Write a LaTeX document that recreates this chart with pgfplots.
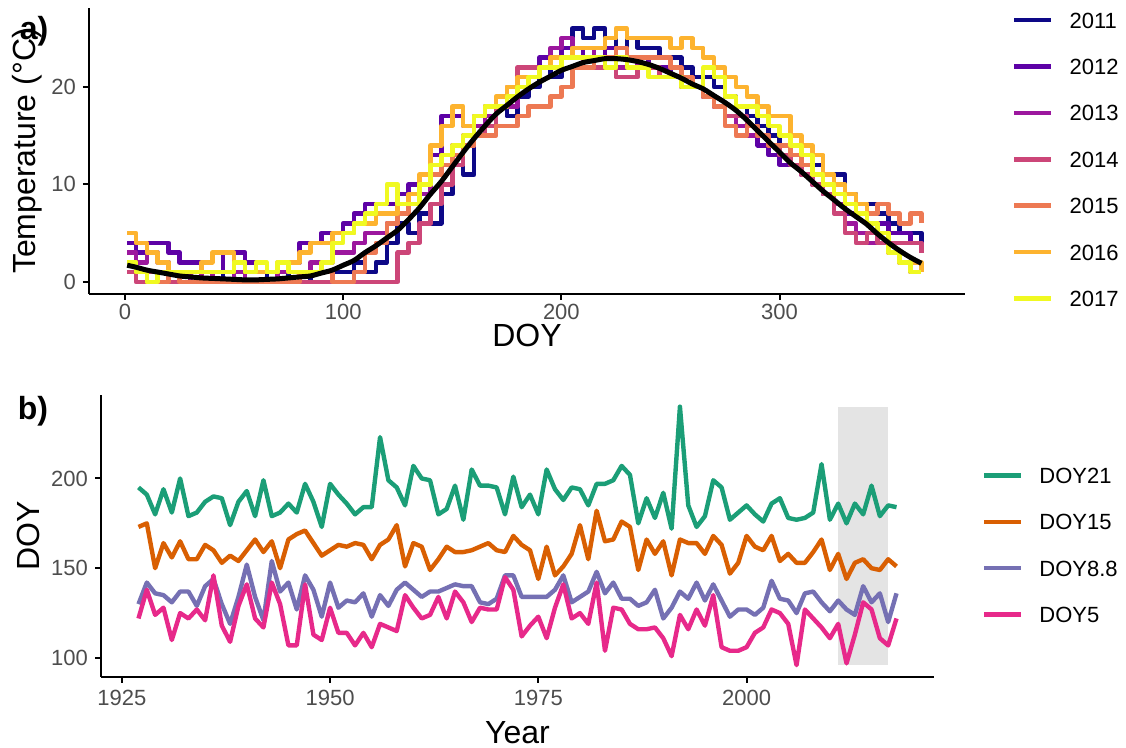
\documentclass[border=0pt]{standalone}
\usepackage{fontspec}
\setmainfont{Liberation Sans}
\usepackage{pgfplots}
\pgfplotsset{compat=1.18}

\definecolor{gray30}{HTML}{4D4D4D}
\definecolor{y2011}{HTML}{0D0887}
\definecolor{y2012}{HTML}{5D01A6}
\definecolor{y2013}{HTML}{9C179E}
\definecolor{y2014}{HTML}{CC4678}
\definecolor{y2015}{HTML}{ED7953}
\definecolor{y2016}{HTML}{FDB32F}
\definecolor{y2017}{HTML}{F0F921}
\definecolor{doyA}{HTML}{1B9E77}
\definecolor{doyB}{HTML}{D95F02}
\definecolor{doyC}{HTML}{7570B3}
\definecolor{doyD}{HTML}{E7298A}
\definecolor{shade}{HTML}{E4E4E4}

\newcommand\tickfont{\fontsize{11}{13}\selectfont}
\newcommand\titlefont{\fontsize{16}{19}\selectfont}

\pgfplotsset{
  panel/.style={
    scale only axis,
    axis lines*=left,
    axis line style={line width=1pt, black},
    tick align=outside,
    major tick length=3pt,
    major tick style={line width=1pt, black},
    tick label style={font=\tickfont, text=gray30},
    /pgf/number format/assume math mode=true,
    label style={font=\titlefont},
    legend cell align=left,
    legend style={draw=none, fill=none, inner sep=0pt, outer sep=0pt,
      column sep=8pt, row sep=15.2pt, font=\tickfont,
      nodes={inner sep=0pt, text height=8pt, text depth=0pt}},
    legend image code/.code={\draw[##1] (0pt,0pt) -- (18.5pt,0pt);},
  },
  yr/.style={line width=2.3pt, line join=round, const plot},
  doy/.style={line width=2.2pt, line join=round},
}

\begin{document}
\begin{tikzpicture}
\path[use as bounding box] (0pt,0pt) rectangle (563pt,374pt);

% ---------------- a) daily temperature by year ----------------
\begin{axis}[panel,
  at={(44.5pt,227pt)}, anchor=south west,
  width=438pt, height=143pt,
  xmin=-16.5, xmax=385, ymin=-1.25, ymax=28.1,
  xtick={0,100,200,300}, ytick={0,10,20},
  xticklabel style={yshift=1.5pt},
  xlabel={DOY}, ylabel={Temperature (°C)},
  xlabel style={at={(axis description cs:0.5,-0.145)}, anchor=center},
  ylabel style={at={(axis description cs:-0.07,0.5)}, anchor=center},
  legend style={at={(axis description cs:1.0537,0.9855)}, anchor=north west},
]
\addplot[yr, y2011] coordinates {(1,2)(5,1)(10,1)(15,0)(20,1)(25,0)(30,1)(35,0)(40,0)(45,1)(50,0)(55,0)(60,0)(65,1)(70,0)(75,1)(80,0)(85,1)(90,1)(95,1)(100,1)(105,2)(110,1)(115,2)(120,4)(125,6)(130,5)(135,7)(140,6)(145,9)(150,12)(155,11)(160,15)(165,17)(170,18)(175,17)(180,19)(185,20)(190,22)(195,21)(200,24)(205,26)(210,25)(215,26)(220,25)(225,24)(230,25)(235,24)(240,24)(245,23)(250,23)(255,22)(260,21)(265,21)(270,20)(275,19)(280,18)(285,17)(290,16)(295,15)(300,14)(305,13)(310,12)(315,12)(320,11)(325,11)(330,9)(335,8)(340,8)(345,7)(350,6)(355,5)(360,5)(365,3)};
\addplot[yr, y2012] coordinates {(1,4)(5,3)(10,4)(15,4)(20,3)(25,2)(30,2)(35,1)(40,1)(45,3)(50,3)(55,2)(60,1)(65,1)(70,1)(75,2)(80,4)(85,4)(90,5)(95,5)(100,6)(105,7)(110,8)(115,8)(120,8)(125,9)(130,10)(135,10)(140,13)(145,17)(150,17)(155,16)(160,17)(165,18)(170,18)(175,19)(180,20)(185,21)(190,23)(195,23)(200,24)(205,24)(210,23)(215,23)(220,24)(225,23)(230,23)(235,23)(240,22)(245,22)(250,21)(255,21)(260,20)(265,19)(270,18)(275,17)(280,16)(285,15)(290,14)(295,13)(300,12)(305,12)(310,11)(315,10)(320,9)(325,8)(330,7)(335,7)(340,6)(345,6)(350,5)(355,5)(360,4)(365,3)};
\addplot[yr, y2013] coordinates {(1,3)(5,2)(10,3)(15,2)(20,1)(25,1)(30,0)(35,1)(40,0)(45,0)(50,1)(55,0)(60,0)(65,0)(70,1)(75,1)(80,1)(85,2)(90,2)(95,3)(100,3)(105,4)(110,5)(115,5)(120,6)(125,7)(130,8)(135,9)(140,11)(145,12)(150,14)(155,15)(160,16)(165,17)(170,18)(175,18)(180,20)(185,21)(190,22)(195,24)(200,25)(205,24)(210,24)(215,23)(220,23)(225,22)(230,23)(235,22)(240,22)(245,21)(250,21)(255,20)(260,20)(265,19)(270,18)(275,17)(280,16)(285,15)(290,15)(295,14)(300,13)(305,12)(310,11)(315,10)(320,9)(325,8)(330,6)(335,5)(340,4)(345,4)(350,3)(355,2)(360,1)(365,1)};
\addplot[yr, y2014] coordinates {(1,1)(5,0)(10,1)(15,0)(60,0)(122,0)(125,3)(130,4)(135,6)(140,8)(145,10)(150,12)(155,14)(160,15)(165,16)(170,18)(175,20)(180,22)(185,22)(190,22)(195,23)(200,23)(205,23)(210,22)(215,22)(220,22)(225,21)(230,21)(235,22)(240,22)(245,21)(250,21)(255,20)(260,20)(265,19)(270,18)(275,17)(280,17)(285,16)(290,15)(295,14)(300,13)(305,12)(310,11)(315,10)(320,9)(325,7)(330,5)(335,4)(340,5)(345,4)(350,4)(355,4)(360,4)(365,3)};
\addplot[yr, y2015] coordinates {(1,2)(5,1)(10,0)(15,0)(20,1)(25,0)(30,0)(75,0)(80,1)(85,1)(90,1)(95,0)(100,0)(105,1)(110,3)(115,4)(120,6)(125,7)(130,8)(135,10)(140,11)(145,12)(150,13)(155,14)(160,15)(165,15)(170,16)(175,16)(180,17)(185,18)(190,18)(195,19)(200,20)(205,22)(210,22)(215,23)(220,23)(225,24)(230,23)(235,23)(240,23)(245,23)(250,22)(255,21)(260,20)(265,19)(270,18)(275,16)(280,15)(285,16)(290,15)(295,14)(300,14)(305,13)(310,12)(315,11)(320,10)(325,9)(330,8)(335,8)(340,7)(345,8)(350,7)(355,6)(360,7)(365,6)};
\addplot[yr, y2016] coordinates {(1,5)(5,4)(10,3)(15,2)(20,1)(25,1)(30,1)(35,2)(40,3)(45,3)(50,2)(55,1)(60,1)(65,1)(70,2)(75,2)(80,3)(85,4)(90,4)(95,5)(100,5)(105,6)(110,6)(115,7)(120,7)(125,8)(130,9)(135,11)(140,14)(145,16)(150,18)(155,16)(160,17)(165,18)(170,19)(175,20)(180,21)(185,21)(190,22)(195,23)(200,23)(205,24)(210,24)(215,24)(220,25)(225,26)(230,25)(235,25)(240,25)(245,25)(250,24)(255,25)(260,24)(265,23)(270,22)(275,21)(280,20)(285,19)(290,18)(295,17)(300,17)(305,15)(310,14)(315,13)(320,11)(325,10)(330,9)(335,8)(340,6)(345,5)(350,3)(355,2)(360,2)(365,1)};
\addplot[yr, y2017] coordinates {(1,2)(5,1)(10,0)(15,1)(20,1)(25,1)(30,1)(35,1)(40,1)(45,1)(50,2)(55,1)(60,2)(65,1)(70,2)(75,1)(80,1)(85,1)(90,2)(95,4)(100,5)(105,6)(110,7)(115,8)(120,10)(125,8)(130,8)(135,10)(140,12)(145,13)(150,14)(155,15)(160,17)(165,18)(170,18)(175,19)(180,20)(185,21)(190,22)(195,22)(200,23)(205,23)(210,23)(215,23)(220,22)(225,23)(230,22)(235,22)(240,21)(245,21)(250,21)(255,20)(260,20)(265,22)(270,21)(275,19)(280,18)(285,18)(290,17)(295,16)(300,15)(305,14)(310,13)(315,11)(320,10)(325,9)(330,8)(335,7)(340,6)(345,5)(350,3)(355,2)(360,1)(365,1)};
% mean seasonal curve
\addplot[black, line width=2.5pt, smooth, forget plot] coordinates {(1,1.7)(5,1.5)(10,1.2)(15,1.0)(20,0.8)(25,0.6)(30,0.5)(35,0.4)(40,0.35)(45,0.3)(50,0.25)(55,0.2)(60,0.2)(65,0.25)(70,0.3)(75,0.4)(80,0.5)(85,0.6)(90,0.9)(95,1.2)(100,1.7)(105,2.2)(110,3.0)(115,3.7)(120,4.5)(125,5.3)(130,6.4)(135,7.6)(140,9.0)(145,10.3)(150,11.8)(155,13.3)(160,14.7)(165,16.0)(170,17.2)(175,18.1)(180,19.0)(185,19.8)(190,20.5)(195,21.1)(200,21.7)(205,22.1)(210,22.5)(215,22.7)(220,22.9)(225,22.9)(230,22.8)(235,22.6)(240,22.3)(245,21.9)(250,21.4)(255,20.9)(260,20.3)(265,19.8)(270,19.1)(275,18.4)(280,17.6)(285,16.6)(290,15.5)(295,14.4)(300,13.3)(305,12.2)(310,11.3)(315,10.3)(320,9.3)(325,8.4)(330,7.5)(335,6.7)(340,5.9)(345,4.9)(350,4.0)(355,3.2)(360,2.5)(365,1.9)};
\legend{2011,2012,2013,2014,2015,2016,2017}
\end{axis}

% ---------------- b) threshold DOY by year ----------------
\pgfplotstableread{
year d21 d15 d88 d5
1927 195 173 130 122
1928 191 175 142 138
1929 180 150 136 124
1930 194 164 135 128
1931 181 156 131 110
1932 200 165 137 125
1933 179 155 137 122
1934 181 155 129 127
1935 187 163 140 121
1936 190 160 144 146
1937 189 153 130 118
1938 174 157 119 109
1939 187 154 134 129
1940 193 160 152 141
1941 179 166 134 122
1942 199 159 121 117
1943 179 165 154 142
1944 181 150 137 130
1945 186 166 142 107
1946 181 169 127 107
1947 197 171 146 141
1948 187 164 138 113
1949 173 157 123 110
1950 197 160 142 128
1951 191 163 128 114
1952 186 162 132 114
1953 180 164 131 107
1954 184 163 136 114
1955 184 155 123 106
1956 223 163 135 119
1957 199 166 129 117
1958 195 174 138 115
1959 185 151 142 135
1960 207 164 138 128
1961 200 162 134 122
1962 199 149 137 124
1963 180 155 137 134
1964 183 162 139 122
1965 196 159 141 137
1966 177 159 140 131
1967 205 160 140 120
1968 196 162 131 128
1969 196 164 130 127
1970 195 160 133 127
1971 180 159 146 145
1972 201 168 146 138
1973 184 163 134 112
1974 191 160 134 118
1975 180 144 134 123
1976 205 162 134 111
1977 194 146 138 128
1978 188 151 146 141
1979 195 158 131 122
1980 194 174 134 125
1981 185 155 137 119
1982 197 182 148 142
1983 197 165 136 104
1984 199 166 142 128
1985 207 176 133 127
1986 202 173 133 119
1987 175 149 129 116
1988 189 166 131 116
1989 178 158 138 117
1990 192 165 122 111
1991 172 146 128 101
1992 240 166 137 124
1993 185 164 133 116
1994 173 164 142 127
1995 179 158 132 118
1996 199 168 141 135
1997 195 163 132 106
1998 177 147 123 104
1999 181 153 127 104
2000 185 168 127 106
2001 180 162 124 114
2002 176 160 128 117
2003 186 168 143 127
2004 189 154 133 125
2005 178 158 132 119
2006 177 153 125 96
2007 178 153 136 127
2008 181 159 137 122
2009 208 166 131 117
2010 177 149 126 111
2011 186 158 132 119
2012 175 144 127 97
2013 186 153 124 113
2014 180 155 140 131
2015 196 150 131 127
2016 179 149 136 111
2017 185 155 120 107
2018 184 151 136 122
}\doytable

\begin{axis}[panel,
  at={(50.5pt,35.5pt)}, anchor=south west,
  width=416.5pt, height=141pt,
  xmin=1922.5, xmax=2022.5, ymin=89.4, ymax=246.5,
  xtick={1925,1950,1975,2000}, ytick={100,150,200},
  xticklabel style={/pgf/number format/1000 sep={}},
  xlabel={Year}, ylabel={DOY},
  xlabel style={at={(axis description cs:0.5,-0.198)}, anchor=center},
  ylabel style={at={(axis description cs:-0.0876,0.5)}, anchor=center},
  legend style={at={(axis description cs:1.0576,0.743)}, anchor=north west},
]
% recent period 2011-2017
\addplot[fill=shade, draw=none, forget plot] coordinates {(2011,96)(2017,96)(2017,240)(2011,240)};
\addplot[doy, doyA] table[x=year, y=d21] {\doytable};
\addplot[doy, doyB] table[x=year, y=d15] {\doytable};
\addplot[doy, doyC] table[x=year, y=d88] {\doytable};
\addplot[doy, doyD] table[x=year, y=d5] {\doytable};
\legend{DOY21,DOY15,DOY8.8,DOY5}
\end{axis}

\node[font=\bfseries\titlefont] at (17pt,358.5pt) {a)};
\node[font=\bfseries\titlefont] at (16.5pt,168.5pt) {b)};
\end{tikzpicture}
\end{document}
